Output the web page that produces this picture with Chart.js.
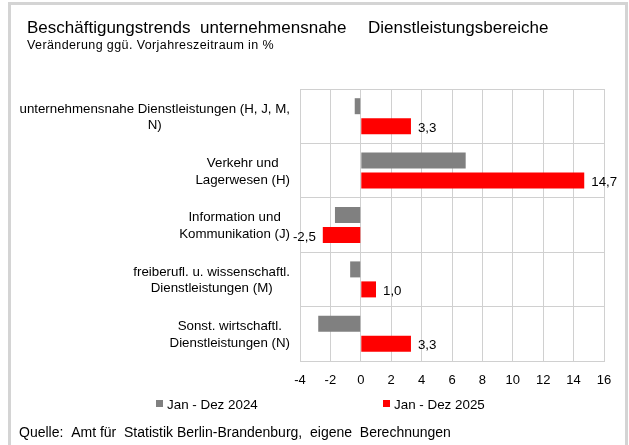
<!DOCTYPE html>
<html><head><meta charset="utf-8">
<script src="https://cdn.jsdelivr.net/npm/chart.js@4"></script>
<style>html,body{margin:0;padding:0;background:#fff;}canvas{display:block;}</style>
</head><body>
<canvas id="c" width="629" height="445"></canvas>
<script>
const categories = [
  ["unternehmensnahe Dienstleistungen (H, J, M,", "N)"],
  ["Verkehr und", "Lagerwesen (H)"],
  ["Information und", "Kommunikation (J)"],
  ["freiberufl. u. wissenschaftl.", "Dienstleistungen (M)"],
  ["Sonst. wirtschaftl.", "Dienstleistungen (N)"]
];
const seriesNames = ["Jan - Dez 2024", "Jan - Dez 2025"];
const values2024 = [-0.4, 6.9, -1.7, -0.7, -2.8];
const values2025 = [3.3, 14.7, -2.5, 1.0, 3.3];
const xTicks = [-4, -2, 0, 2, 4, 6, 8, 10, 12, 14, 16];
const titleWords = ["Beschäftigungstrends", "unternehmensnahe", "Dienstleistungsbereiche"];
const subtitleText = "Veränderung ggü. Vorjahreszeitraum in %";
const sourceText = "Quelle:  Amt für  Statistik Berlin-Brandenburg,  eigene  Berechnungen";

const FONT = "'Liberation Sans', Arial, sans-serif";
const colors = ["#808080", "#ff0000"];
const gridColor = "#d0d0d0";

const decorPlugin = {
  id: "decor",
  afterDraw(chart) {
    const ctx = chart.ctx;
    ctx.save();
    // frame
    ctx.strokeStyle = "#d4d4d4";
    ctx.lineWidth = 3;
    ctx.strokeRect(9.5, 3.5, 617, 470);
    ctx.fillStyle = "#000";
    ctx.textBaseline = "alphabetic";
    ctx.textAlign = "left";
    ctx.font = "17px " + FONT;
    const titleX = [27, 200, 368];
    titleWords.forEach((w, i) => ctx.fillText(w, titleX[i], 33));
    ctx.font = "12.5px " + FONT;
    ctx.letterSpacing = "0.4px";
    ctx.fillText(subtitleText, 27, 49);
    ctx.letterSpacing = "0px";
    ctx.font = "14px " + FONT;
    ctx.fillText(sourceText, 19, 437);

    // category labels
    const ys = chart.scales.y;
    ctx.font = "13.3px " + FONT;
    ctx.textAlign = "center";
    ctx.textBaseline = "middle";
    const lh = 16.5;
    categories.forEach((lines, i) => {
      const y = ys.getPixelForTick(i);
      const w = Math.max(...lines.map(l => ctx.measureText(l).width));
      const cx = 290 - w / 2;
      lines.forEach((l, j) => {
        ctx.fillText(l, cx, y + (j - (lines.length - 1) / 2) * lh + 1);
      });
    });

    // x tick labels
    const xs = chart.scales.x;
    ctx.font = "13px " + FONT;
    xTicks.forEach(v => ctx.fillText(String(v), xs.getPixelForValue(v), 380));

    // legend
    ctx.font = "13.4px " + FONT;
    ctx.textAlign = "left";
    const legendX = [156, 383];
    seriesNames.forEach((n, i) => {
      ctx.fillStyle = colors[i];
      ctx.fillRect(legendX[i], 400, 7, 7);
      ctx.fillStyle = "#000";
      ctx.fillText(n, legendX[i] + 11, 405);
    });

    // data labels for 2025
    const meta = chart.getDatasetMeta(1);
    ctx.font = "13.3px " + FONT;
    ctx.textBaseline = "middle";
    meta.data.forEach((el, i) => {
      const v = values2025[i];
      const t = v.toFixed(1).replace(".", ",");
      if (v >= 0) { ctx.textAlign = "left"; ctx.fillText(t, el.x + 7, el.y + 2); }
      else { ctx.textAlign = "right"; ctx.fillText(t, el.x - 7, el.y + 2); }
    });
    ctx.restore();
  }
};

new Chart(document.getElementById("c"), {
  type: "bar",
  data: {
    labels: categories.map(c => c.join(" ")),
    datasets: [
      { label: seriesNames[0], data: values2024, backgroundColor: colors[0] },
      { label: seriesNames[1], data: values2025, backgroundColor: colors[1] }
    ]
  },
  options: {
    indexAxis: "y",
    responsive: false,
    animation: false,
    categoryPercentage: 0.735,
    barPercentage: 0.8,
    layout: { padding: { left: 300, right: 25, top: 89, bottom: 84 } },
    plugins: { legend: { display: false }, tooltip: { enabled: false }, title: { display: false } },
    scales: {
      x: {
        type: "linear", min: -4, max: 16,
        afterBuildTicks(s) { s.ticks = xTicks.map(v => ({ value: v })); },
        afterFit(s) { s.height = 0; },
        ticks: { display: false },
        grid: { color: gridColor, drawTicks: false, lineWidth: 1 },
        border: { color: gridColor }
      },
      y: {
        afterFit(s) { s.width = 0; },
        ticks: { display: false },
        grid: { color: gridColor, offset: true, drawTicks: false },
        border: { color: gridColor }
      }
    }
  },
  plugins: [decorPlugin]
});
</script>
</body></html>
